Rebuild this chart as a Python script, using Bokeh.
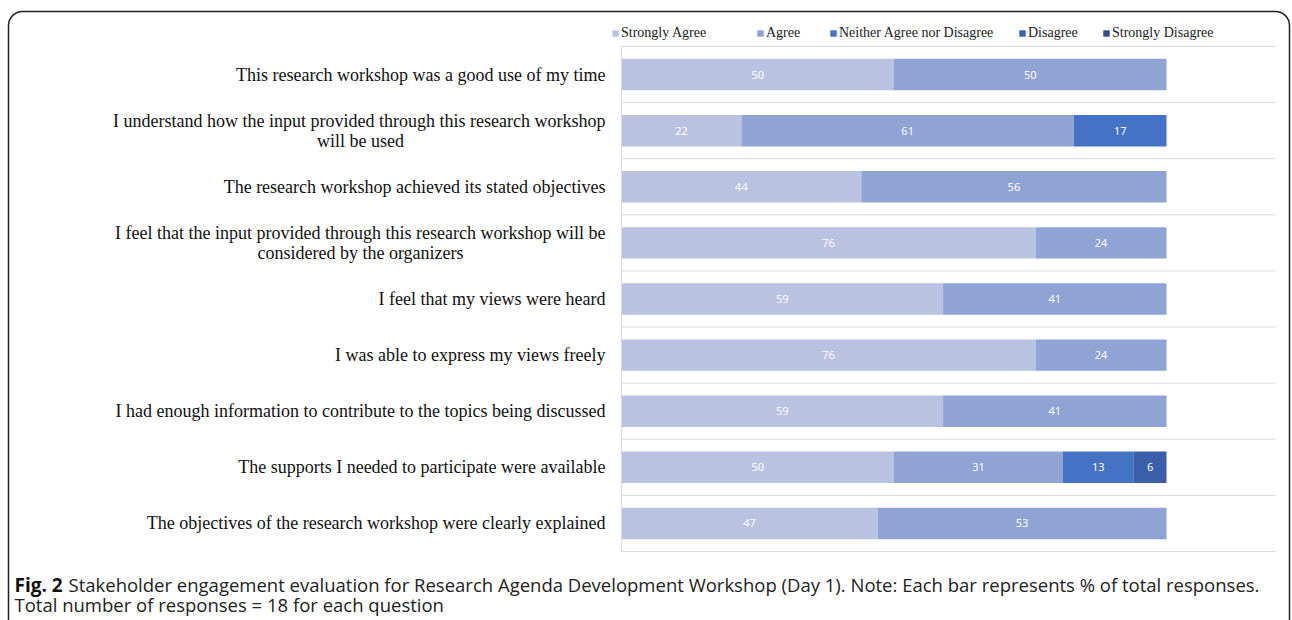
from bokeh.plotting import figure
from bokeh.models import ColumnDataSource, Range1d, Label, BoxAnnotation, Legend, LegendItem
from bokeh.embed import file_html
from bokeh.resources import INLINE
from bokeh.core.properties import value

questions = [
    "This research workshop was a good use of my time",
    "I understand how the input provided through this research workshop\nwill be used",
    "The research workshop achieved its stated objectives",
    "I feel that the input provided through this research workshop will be\nconsidered by the organizers",
    "I feel that my views were heard",
    "I was able to express my views freely",
    "I had enough information to contribute to the topics being discussed",
    "The supports I needed to participate were available",
    "The objectives of the research workshop were clearly explained",
]
responses = ["Strongly Agree", "Agree", "Neither Agree nor Disagree", "Disagree", "Strongly Disagree"]
strongly_agree = [50, 22, 44, 76, 59, 76, 59, 50, 47]
agree = [50, 61, 56, 24, 41, 24, 41, 31, 53]
neither = [0, 17, 0, 0, 0, 0, 0, 13, 0]
disagree = [0, 0, 0, 0, 0, 0, 0, 6, 0]
strongly_disagree = [0, 0, 0, 0, 0, 0, 0, 0, 0]
colors = ["#b9c2e1", "#8fa3d4", "#4472c4", "#3b5fab", "#2e4d8c"]
caption_bold = "Fig. 2"
caption_line1 = ("Stakeholder engagement evaluation for Research Agenda Development Workshop (Day 1). "
                 "Note: Each bar represents % of total responses.")
caption_line2 = "Total number of responses = 18 for each question"

# ---- layout geometry (pixels) ----
W, H = 1292, 620
AXIS_PX = 621          # x pixel of the value 0
PX_PER_UNIT = 5.45     # pixels per percentage point
FRAME_RIGHT_PX = 1275
TOP_PX, BOTTOM_PX = 46, 551
n = len(questions)
BAND = (BOTTOM_PX - TOP_PX) / n

x_start = -AXIS_PX / PX_PER_UNIT
x_end = (W - AXIS_PX) / PX_PER_UNIT
y_top = -0.5 - TOP_PX / BAND
y_bottom = y_top + H / BAND

def dx(px):
    return x_start + px / PX_PER_UNIT

def dy(py):
    return y_top + py / BAND

series = [strongly_agree, agree, neither, disagree, strongly_disagree]
ypos = list(range(n))
data = {"y": ypos}
for name, vals in zip(responses, series):
    data[name] = vals
source = ColumnDataSource(data)

p = figure(width=W, height=H, output_backend="svg", toolbar_location=None,
           x_range=Range1d(x_start, x_end), y_range=Range1d(y_bottom, y_top),
           x_axis_type=None, y_axis_type=None,
           min_border=0)
p.min_border_left = p.min_border_right = p.min_border_top = p.min_border_bottom = 0
p.outline_line_color = None
p.grid.visible = False

renderers = p.hbar_stack(responses, y="y", height=0.56, color=colors, source=source,
                         line_color=None)

# value labels
lx, ly, lt = [], [], []
for i in range(n):
    cum = 0
    for vals in series:
        v = vals[i]
        if v > 0:
            lx.append(cum + v / 2)
            ly.append(ypos[i])
            lt.append(str(v))
        cum += v
p.text(x=lx, y=ly, text=lt, text_align="center", text_baseline="middle",
       text_color="white", text_font=value("Noto Sans"), text_font_size="11px")

# band separators and axis line
bounds = [i - 0.5 for i in range(n + 1)]
p.segment(x0=[0] * len(bounds), x1=[dx(FRAME_RIGHT_PX)] * len(bounds), y0=bounds, y1=bounds,
          line_color="#d9d9d9", line_width=1)
p.segment(x0=[0], x1=[0], y0=[bounds[0]], y1=[bounds[-1]], line_color="#d9d9d9", line_width=1)

# category labels
LABEL_FONT = "Liberation Serif"
LABEL_SIZE = "18px"
LABEL_RIGHT = dx(605)
for i, q in enumerate(questions):
    lines = q.split("\n")
    if len(lines) == 1:
        p.add_layout(Label(x=LABEL_RIGHT, y=i, text=q, text_align="right", text_baseline="middle",
                           text_font=LABEL_FONT, text_font_size=LABEL_SIZE, text_color="#111111"))
    else:
        off = 10 / BAND
        p.add_layout(Label(x=LABEL_RIGHT, y=i - off, text=lines[0], text_align="right",
                           text_baseline="middle", text_font=LABEL_FONT,
                           text_font_size=LABEL_SIZE, text_color="#111111"))
        p.add_layout(Label(x=dx(360), y=i + off, text=lines[1], text_align="center",
                           text_baseline="middle", text_font=LABEL_FONT,
                           text_font_size=LABEL_SIZE, text_color="#111111"))

# legend: one legend per entry for exact placement
legend_x = [611, 756, 829, 1018, 1102]
for r, name, lxp in zip(renderers, responses, legend_x):
    lg = Legend(items=[LegendItem(label=name, renderers=[r])], location=(lxp, H - 42),
                orientation="horizontal", glyph_width=8, glyph_height=8, label_standoff=2,
                padding=0, margin=0, border_line_color=None, background_fill_alpha=0,
                label_text_font=LABEL_FONT, label_text_font_size="14px",
                label_text_color="#222222", label_height=18)
    p.add_layout(lg)

# outer rounded frame
p.add_layout(BoxAnnotation(left=dx(8), right=dx(1289), top=dy(11), bottom=dy(660),
                           fill_alpha=0, line_color="#222222", line_alpha=1.0, line_width=1.5,
                           border_radius=14, level="overlay"))

cap_font = "Open Sans"
p.add_layout(Label(x=dx(14), y=dy(584), text=caption_bold,
                   text_font=cap_font, text_font_style="bold", text_font_size="19px",
                   text_baseline="middle", text_color="#111111"))
p.add_layout(Label(x=dx(68), y=dy(584), text=caption_line1,
                   text_font=cap_font, text_font_size="18.5px",
                   text_baseline="middle", text_color="#222222"))
p.add_layout(Label(x=dx(14), y=dy(604), text=caption_line2,
                   text_font=cap_font, text_font_size="18.5px",
                   text_baseline="middle", text_color="#222222"))

open("out.html", "w").write(file_html(p, INLINE))
